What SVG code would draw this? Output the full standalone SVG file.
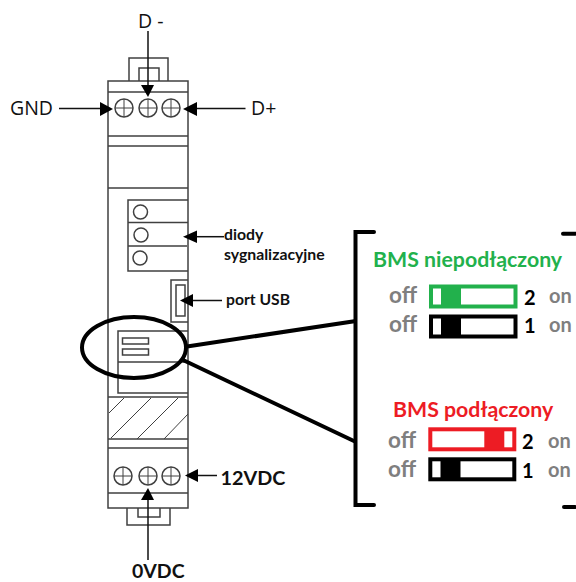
<svg xmlns="http://www.w3.org/2000/svg" width="576" height="582" viewBox="0 0 576 582">
<style>
.d{fill:none;stroke:#404040;stroke-width:1.5}
.t{fill:none;stroke:#404040;stroke-width:1}
.c{fill:none;stroke:#111;stroke-width:1.5}
.h{fill:#000;stroke:none}
.lbl{font-family:"Open Sans","Liberation Sans",sans-serif;font-size:19.500px;fill:#111}
.b{font-family:Lato,"Liberation Sans",sans-serif;font-weight:700;fill:#111}
.g{font-family:Lato,"Liberation Sans",sans-serif;font-weight:700;font-size:20px;fill:#7f7f7f}
.off{font-size:22.500px}
.n{font-family:Lato,"Liberation Sans",sans-serif;font-weight:700;font-size:20px;fill:#000}
.title{font-family:Lato,"Liberation Sans",sans-serif;font-weight:700;font-size:21.300px}
.thick{fill:none;stroke:#000;stroke-width:4;stroke-linecap:round}
</style>
<defs>
<g id="screw"><circle r="9" class="d"/><path d="M-9 0H9M0-9V9" class="t"/></g>
</defs>
<rect width="576" height="582" fill="#fff"/>
<g id="device">
<path class="d" d="M129 81V58H168V81M139 81V68H159V81"/>
<rect class="d" x="108" y="81" width="80" height="427"/>
<path class="d" d="M108 92H188M108 136H188M108 146H188M108 188H188M108 397H188M108 439H188M108 448H188M108 493H188"/>
<path class="d" d="M127 508V525H170V508M138 508V517H160V508"/>
<use href="#screw" x="124" y="108"/><use href="#screw" x="148" y="108"/><use href="#screw" x="171" y="108"/>
<use href="#screw" x="123" y="476"/><use href="#screw" x="148" y="476"/><use href="#screw" x="171" y="476"/>
<path class="t" d="M109 413L124 398M111 438L151 398M137 439L178 398M164 439L188 414"/>
</g>
<g id="leds">
<path class="d" d="M188 200H128V271H188M128 222.500H188M128 246H187"/>
<circle class="d" cx="140.500" cy="212" r="7"/><circle class="d" cx="141" cy="235" r="7"/><circle class="d" cx="140" cy="258" r="7"/>
</g>
<g id="usb">
<path class="d" d="M188 280H171V322H188"/>
<rect class="d" x="176" y="285" width="9" height="31"/>
</g>
<g id="dip">
<path class="d" d="M188 331H118V393H188M118 362H188"/>
<rect class="d" x="122.500" y="338" width="26" height="6"/>
<rect class="d" x="122.500" y="349" width="26" height="6"/>
</g>
<g id="connectors">
<path class="c" d="M148 31V86"/><path class="h" d="M141 85H154L148 97Z"/>
<path class="c" d="M59 108.500H101"/><path class="h" d="M100 102V116L113 109Z"/>
<path class="c" d="M245.500 108.500H195"/><path class="h" d="M197 102V116L183 109Z"/>
<path class="c" d="M224 236.700H196"/><path class="h" d="M197 230.500V243L183 236.700Z"/>
<path class="c" d="M222 300.500H192"/><path class="h" d="M193 294V307L180 300.500Z"/>
<path class="c" d="M217 475.500H195"/><path class="h" d="M198 469V482L185 475.500Z"/>
<path class="c" d="M148 560V498"/><path class="h" d="M141 500H154L148 488Z"/>
<ellipse cx="134" cy="347.500" rx="52" ry="30.500" fill="none" stroke="#000" stroke-width="4"/>
<path d="M187 346.500L356 321M183 360L356 442" fill="none" stroke="#000" stroke-width="4"/>
<path class="thick" d="M374 232H355.500V505H374M563 233.700H575M564 507H575"/>
</g>
<g id="labels">
<text class="lbl" x="138" y="28">D -</text>
<text class="lbl" x="10" y="115">GND</text>
<text class="lbl" x="251" y="115">D+</text>
<text class="b" x="224" y="240" font-size="15.800">diody</text>
<text class="b" x="224" y="260" font-size="15.800">sygnalizacyjne</text>
<text class="b" x="226" y="305" font-size="15.700">port USB</text>
<text class="b" x="220.500" y="485" font-size="19.800">12VDC</text>
<text class="b" x="132" y="578" font-size="19.500">0VDC</text>
</g>
<g id="panel-niepodlaczony">
<text class="title" x="373" y="267" fill="#22b14c">BMS niepodłączony</text>
<text class="g off" x="389" y="303">off</text><text class="g off" x="389" y="332">off</text>
<text class="g" x="549" y="303">on</text><text class="g" x="549" y="332">on</text>
<text class="n" x="524" y="305">2</text><text class="n" x="524" y="333">1</text>
<rect x="431" y="286.500" width="84.500" height="20" fill="#fff" stroke="#22b14c" stroke-width="4"/>
<rect x="441" y="286.500" width="20" height="20" fill="#22b14c"/>
<rect x="431" y="316.500" width="84.500" height="20" fill="#fff" stroke="#000" stroke-width="4"/>
<rect x="441" y="316.500" width="20" height="20" fill="#000"/>
</g>
<g id="panel-podlaczony">
<text class="title" x="393" y="417" fill="#ed1c24">BMS podłączony</text>
<text class="g off" x="388" y="448">off</text><text class="g off" x="388" y="477">off</text>
<text class="g" x="548" y="448">on</text><text class="g" x="548" y="477">on</text>
<text class="n" x="522" y="449">2</text><text class="n" x="522" y="478">1</text>
<rect x="430.300" y="429.300" width="84" height="20" fill="#fff" stroke="#ed1c24" stroke-width="4"/>
<rect x="484.300" y="429.300" width="20" height="20" fill="#ed1c24"/>
<rect x="430.300" y="459.300" width="84" height="20" fill="#fff" stroke="#000" stroke-width="4"/>
<rect x="440.500" y="459.300" width="20" height="20" fill="#000"/>
</g>
</svg>
